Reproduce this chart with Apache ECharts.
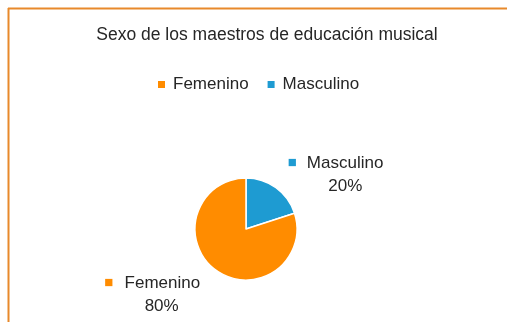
<!DOCTYPE html>
<html>
<head>
<meta charset="utf-8">
<script src="https://cdn.jsdelivr.net/npm/echarts@6/dist/echarts.min.js"></script>
<style>
html,body{margin:0;padding:0;background:#fff;}
#chart{width:507px;height:322px;}
</style>
</head>
<body>
<div id="chart"></div>
<script>
const titleText = 'Sexo de los maestros de educación musical';
const categories = ['Femenino', 'Masculino'];
const values = [80, 20];
const colors = ['#FF8C00', '#1E9BD2'];

const chart = echarts.init(document.getElementById('chart'), null, {renderer: 'canvas'});
const font = 'Liberation Sans, Arial, sans-serif';
const textColor = '#262626';

const data = categories.map((c, i) => ({name: c, value: values[i], itemStyle: {color: colors[i]}}));
// Masculino first, clockwise from 12 o'clock
const pieData = [data[1], data[0]];

chart.setOption({
  animation: false,
  backgroundColor: '#fff',
  title: {
    text: titleText,
    left: 262, top: 21, textAlign: 'center',
    textStyle: {fontFamily: font, fontSize: 17.5, fontWeight: 'normal', color: textColor}
  },
  legend: {
    data: categories,
    left: 151, top: 71,
    itemWidth: 9, itemHeight: 9, itemGap: 17,
    icon: 'rect',
    textStyle: {fontFamily: font, fontSize: 17, color: textColor, padding: [0, 0, 0, 2]}
  },
  graphic: [
    {type: 'line', shape: {x1: 8.5, y1: 8, x2: 8.5, y2: 322}, style: {stroke: '#E8892B', lineWidth: 2}},
    {type: 'line', shape: {x1: 8, y1: 8.5, x2: 507, y2: 8.5}, style: {stroke: '#E8892B', lineWidth: 2}}
  ],
  series: [{
    type: 'pie',
    center: [246, 229],
    radius: 51,
    startAngle: 90,
    clockwise: true,
    itemStyle: {borderColor: '#fff', borderWidth: 1.5},
    label: {
      show: true,
      position: 'outside',
      formatter: p => '{sq|■}{n|' + p.name + '}\n{sb| }{pc|' + p.percent.toFixed(0) + '%}',
      rich: {
        sq: {fontSize: 15, width: 19, align: 'left', color: 'inherit'},
        sb: {fontSize: 15, width: 19},
        n: {fontFamily: font, fontSize: 17, color: textColor, lineHeight: 23},
        pc: {fontFamily: font, fontSize: 17, color: textColor, lineHeight: 23, width: 77, align: 'center'}
      },
      fontFamily: font, fontSize: 17, color: textColor
    },
    labelLine: {show: false, length: 10, length2: 0},
    labelLayout: p => p.dataIndex === 0 ? {dx: 1, dy: -5} : {dx: -5, dy: 16},
    data: pieData
  }]
});
</script>
</body>
</html>
